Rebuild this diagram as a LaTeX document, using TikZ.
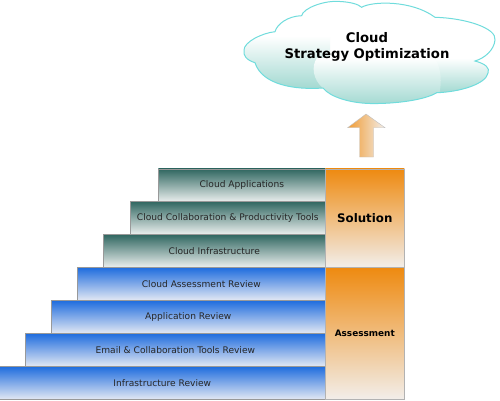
\documentclass[tikz,border=0pt]{standalone}
\usepackage{fontspec}
\setmainfont{DejaVu Sans}
\usetikzlibrary{positioning}

\definecolor{tealtop}{HTML}{2F6660}
\definecolor{tealend}{HTML}{EBEFEE}
\definecolor{bluetop}{HTML}{1E6CDE}
\definecolor{blueend}{HTML}{E3E8F3}
\definecolor{orangetop}{HTML}{EE8A10}
\definecolor{orangeend}{HTML}{F2EEEA}
\definecolor{cloudline}{HTML}{70DCDC}
\definecolor{cloudend}{HTML}{A0D8D0}

\tikzset{
  stair/.style={draw=gray!80,line width=0.6pt,anchor=north west,inner sep=0pt,minimum height=33pt,
    text=black!85,font=\fontsize{9.1}{11}\selectfont},
  cloudstair/.style={stair,top color=tealtop,bottom color=tealend},
  reviewstair/.style={stair,top color=bluetop,bottom color=blueend},
  sidebox/.style={draw=gray!60,line width=0.6pt,anchor=north west,inner sep=0pt,minimum width=79pt,
    top color=orangetop,bottom color=orangeend,font=\bfseries},
}

\begin{document}
\begin{tikzpicture}[x=1pt,y=-1pt]
\useasboundingbox (0,0) rectangle (500,400);

% cloud
\def\cloudpath{(255,62.7) .. controls (246,60) and (243,55) .. (244,50)
  .. controls (244,42) and (262,33) .. (275,31.7)
  .. controls (277,24) and (288,16) .. (301.7,15.7)
  .. controls (303,8) and (325,0) .. (340,1.5)
  .. controls (350,2) and (358,4) .. (361.7,7.3)
  .. controls (372,1) and (412,0) .. (435,17.3)
  .. controls (465,18) and (497,28) .. (495,40)
  .. controls (494,50) and (485,58) .. (475,61)
  .. controls (486,64) and (490,68) .. (488,73)
  .. controls (486,84) and (460,92) .. (436.7,92.7)
  .. controls (425,100) and (395,104) .. (370,103.5)
  .. controls (350,103) and (330,97) .. (323,88)
  .. controls (295,90) and (262,85) .. (255,62.7) -- cycle}
\begin{scope}
\clip \cloudpath;
\fill[white] (240,0) rectangle (500,110);
\shade[top color=white,bottom color=cloudend] (240,36) rectangle (330,90);
\shade[top color=white,bottom color=cloudend] (425,58) rectangle (500,94);
\shade[top color=white,bottom color=cloudend]
  (317,58) .. controls (311,66) and (313,80) .. (323,88) -- (325,106) -- (436,106)
  .. controls (442,88) and (443,72) .. (435,58) -- cycle;
\end{scope}
\draw[cloudline,line width=1pt] \cloudpath;
\node[align=center,font=\bfseries\fontsize{13.2}{16}\selectfont] (title) at (367,46.5) {Cloud\\Strategy Optimization};

% arrow
\shade[left color=orangetop!85,right color=orangeend,draw=gray!50,line width=0.4pt]
  (366,114) -- (385,127.7) -- (373.5,127.7) -- (373.5,157) -- (359.5,157) -- (359.5,127.7) -- (347.7,127.7) -- cycle;

% stairs
\node[cloudstair,minimum width=167pt] (apps) at (158,168.5) {Cloud Applications};
\node[cloudstair,minimum width=195pt] (tools) at (130,201) {Cloud Collaboration \& Productivity Tools};
\node[cloudstair,minimum width=222pt] (infra) at (103,234) {Cloud Infrastructure};
\node[reviewstair,minimum width=248pt] (assess) at (77,267) {Cloud Assessment Review};
\node[reviewstair,minimum width=274pt] (appreview) at (51,300) {Application Review};
\node[reviewstair,minimum width=300pt] (email) at (25,333) {Email \& Collaboration Tools Review};
\node[reviewstair,minimum width=326pt] (review) at (-1,366) {Infrastructure Review};

% side boxes
\node[sidebox,minimum height=98.5pt,font=\bfseries\fontsize{11.8}{13}\selectfont] (solution) at (325,168.5) {Solution};
\node[sidebox,minimum height=132pt,font=\bfseries\fontsize{8.9}{10}\selectfont] (assessment) at (325,267) {Assessment};

\end{tikzpicture}
\end{document}
